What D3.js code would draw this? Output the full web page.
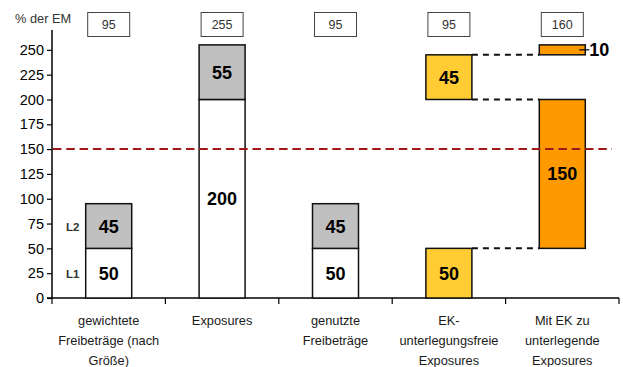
<!DOCTYPE html>
<html>
<head>
<meta charset="utf-8">
<script src="https://cdn.jsdelivr.net/npm/d3@7"></script>
<style>
  html, body { margin: 0; padding: 0; background: #fff; }
  svg { display: block; font-family: "Liberation Sans", Arial, sans-serif; }
</style>
</head>
<body>
<div id="chart"></div>
<script>
// categories and values
const categories = [
  ['gewichtete', 'Freibeträge (nach', 'Größe)'],
  ['Exposures'],
  ['genutzte', 'Freibeträge'],
  ['EK-', 'unterlegungsfreie', 'Exposures'],
  ['Mit EK zu', 'unterlegende', 'Exposures']
];
const totals = [95, 255, 95, 95, 160];
// segments: [category index, start, end, fill type, label]
const segments = [
  [0, 0, 50, 'white', '50'],
  [0, 50, 95, 'gray', '45'],
  [1, 0, 200, 'white', '200'],
  [1, 200, 255, 'gray', '55'],
  [2, 0, 50, 'white', '50'],
  [2, 50, 95, 'gray', '45'],
  [3, 0, 50, 'yellow', '50'],
  [3, 200, 245, 'yellow', '45'],
  [4, 50, 200, 'orange', '150'],
  [4, 245, 255, 'orange', null]
];
const connectors = [245, 200, 50];
const threshold = 150;
const yTicks = [0, 25, 50, 75, 100, 125, 150, 175, 200, 225, 250];
const levelLabels = [['L1', 25], ['L2', 72.5]];

const fills = { white: '#ffffff', gray: '#c0c0c0', yellow: '#ffcc33', orange: '#ff9900' };

const W = 623, H = 367;
const M = { l: 52, r: 4, t: 30, b: 69 };

const svg = d3.select('#chart').append('svg')
  .attr('width', W).attr('height', H);

const x = d3.scaleBand()
  .domain(d3.range(categories.length))
  .range([M.l, 619])
  .padding(0);
const bw = 46;
const cx = i => x(i) + x.bandwidth() / 2;

const y = d3.scaleLinear()
  .domain([0, 270])
  .range([298, 30]);

// y axis
const yAxis = svg.append('g')
  .attr('transform', `translate(${M.l},0)`)
  .call(d3.axisLeft(y).tickValues(yTicks).tickSize(5).tickPadding(3).tickSizeOuter(0));
yAxis.select('.domain').attr('stroke', '#000').attr('stroke-width', 1.5).attr('d', `M0,${y(0)}V${y(270)}`);
yAxis.selectAll('.tick line').attr('stroke', '#000').attr('stroke-width', 1.2);
yAxis.selectAll('.tick text')
  .attr('fill', '#000')
  .style('font-size', '14.5px')
  .style('font-family', '"Liberation Sans", Arial, sans-serif');

// x axis with ticks at category boundaries
const xAxisG = svg.append('g').attr('transform', `translate(0,${y(0)})`);
xAxisG.append('line')
  .attr('x1', M.l - 5).attr('x2', 619)
  .attr('stroke', '#000').attr('stroke-width', 1.5);
xAxisG.selectAll('line.tk')
  .data(d3.range(categories.length + 1))
  .enter().append('line')
  .attr('class', 'tk')
  .attr('x1', i => i < categories.length ? x(i) : x(i - 1) + x.bandwidth())
  .attr('x2', i => i < categories.length ? x(i) : x(i - 1) + x.bandwidth())
  .attr('y1', 0).attr('y2', 6)
  .attr('stroke', '#000').attr('stroke-width', 1.2);

// category labels
categories.forEach((lines, i) => {
  const t = svg.append('text')
    .attr('text-anchor', 'middle')
    .attr('fill', '#1a1a1a')
    .style('font-size', '12.8px');
  lines.forEach((ln, j) => {
    t.append('tspan')
      .attr('x', cx(i))
      .attr('y', 325 + j * 20)
      .text(ln);
  });
});

// axis title
svg.append('text')
  .attr('x', 15).attr('y', 23)
  .attr('fill', '#333')
  .style('font-size', '12.8px')
  .text('% der EM');

// total boxes
svg.selectAll('g.box')
  .data(totals)
  .enter().append('g')
  .attr('class', 'box')
  .each(function (d, i) {
    const g = d3.select(this);
    g.append('rect')
      .attr('x', cx(i) - 21).attr('y', 12.5)
      .attr('width', 42).attr('height', 24)
      .attr('fill', '#fff').attr('stroke', '#444').attr('stroke-width', 1);
    g.append('text')
      .attr('x', cx(i)).attr('y', 29)
      .attr('text-anchor', 'middle')
      .attr('fill', '#333')
      .style('font-size', '12.5px')
      .text(d);
  });

// connectors between bar 4 and bar 5
svg.selectAll('line.conn')
  .data(connectors)
  .enter().append('line')
  .attr('class', 'conn')
  .attr('x1', cx(3) + bw / 2).attr('x2', cx(4) - bw / 2)
  .attr('y1', d => y(d)).attr('y2', d => y(d))
  .attr('stroke', '#111').attr('stroke-width', 2)
  .attr('stroke-dasharray', '6 5');

// bars
svg.selectAll('rect.seg')
  .data(segments)
  .enter().append('rect')
  .attr('class', 'seg')
  .attr('x', d => cx(d[0]) - bw / 2)
  .attr('y', d => y(d[2]))
  .attr('width', bw)
  .attr('height', d => y(d[1]) - y(d[2]))
  .attr('fill', d => fills[d[3]])
  .attr('stroke', '#111')
  .attr('stroke-width', 1.5);

// segment labels
svg.selectAll('text.seg')
  .data(segments.filter(d => d[4]))
  .enter().append('text')
  .attr('class', 'seg')
  .attr('x', d => cx(d[0]))
  .attr('y', d => y((d[1] + d[2]) / 2) + 6.5)
  .attr('text-anchor', 'middle')
  .attr('fill', '#000')
  .style('font-size', '18px')
  .style('font-weight', 'bold')
  .text(d => d[4]);

// small "10" segment label with leader
const small = segments[9];
const smallY = y((small[1] + small[2]) / 2);
svg.append('line')
  .attr('x1', cx(4) + 17).attr('x2', cx(4) + 27)
  .attr('y1', smallY).attr('y2', smallY)
  .attr('stroke', '#000').attr('stroke-width', 1.2);
svg.append('text')
  .attr('x', cx(4) + 27).attr('y', smallY + 6.5)
  .attr('fill', '#000')
  .style('font-size', '18px')
  .style('font-weight', 'bold')
  .text(small[2] - small[1]);

// L1 / L2
svg.selectAll('text.lvl')
  .data(levelLabels)
  .enter().append('text')
  .attr('class', 'lvl')
  .attr('x', 66).attr('y', d => y(d[1]) + 4.5)
  .attr('fill', '#333')
  .style('font-size', '11.5px')
  .style('font-weight', 'bold')
  .text(d => d[0]);

// threshold line
svg.append('line')
  .attr('x1', M.l + 1).attr('x2', 612)
  .attr('y1', y(threshold)).attr('y2', y(threshold))
  .attr('stroke', '#a01818').attr('stroke-width', 2)
  .attr('stroke-dasharray', '8.5 4.8');
</script>
</body>
</html>
